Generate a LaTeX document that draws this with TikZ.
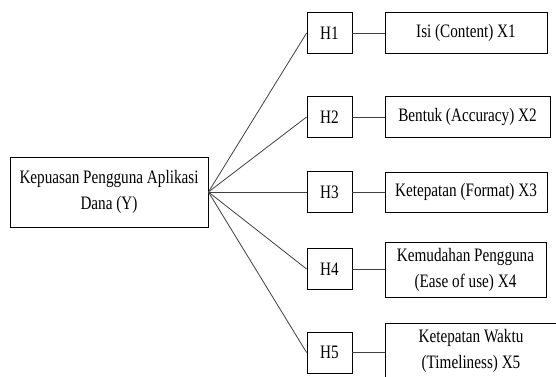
\documentclass[tikz,border=0pt]{standalone}
\usepackage{fontspec}
\setmainfont{Liberation Serif}[FakeStretch=0.8]
\begin{document}
\begin{tikzpicture}[x=1pt,y=-1pt,line width=0.8pt,
  box/.style={draw=black,rectangle,inner sep=0pt,align=center,font=\fontsize{19}{26}\selectfont},
  hyp/.style={box,minimum width=45pt,minimum height=41pt},
  link/.style={draw=black!75}]

\useasboundingbox (0,0) rectangle (556,376);
\clip (0,0) rectangle (556,376);

% Dependent variable
\node[box,minimum width=198pt,minimum height=70pt] (main) at (109,192) {Kepuasan Pengguna Aplikasi\\Dana (Y)};

% Hypotheses
\node[hyp] (h1) at (329.5,33) {H1};
\node[hyp] (h2) at (329.5,117) {H2};
\node[hyp] (h3) at (329.5,192) {H3};
\node[hyp] (h4) at (329.5,269) {H4};
\node[hyp] (h5) at (329.5,352.5) {H5};

% Independent variables
\node[box,minimum width=162pt,minimum height=41pt] (x1) at (466,32.5) {Isi (Content) X1};
\node[box,minimum width=165pt,minimum height=41pt] (x2) at (467.5,116.5) {Bentuk (Accuracy) X2};
\node[box,minimum width=162pt,minimum height=40pt] (x3) at (466,192) {Ketepatan (Format) X3};
\node[box,minimum width=161pt,minimum height=55pt] (x4) at (465.5,269.5) {Kemudahan Pengguna\\(Ease of use) X4};
\node[box,minimum width=172pt,minimum height=55pt] (x5) at (471,350.5) {Ketepatan Waktu\\(Timeliness) X5};

% Connectors
\foreach \i in {1,...,5}{
  \draw[link] (main.east) -- (h\i.west);
  \draw[link] (h\i.east) -- (h\i.east -| x\i.west);
}

\end{tikzpicture}
\end{document}
